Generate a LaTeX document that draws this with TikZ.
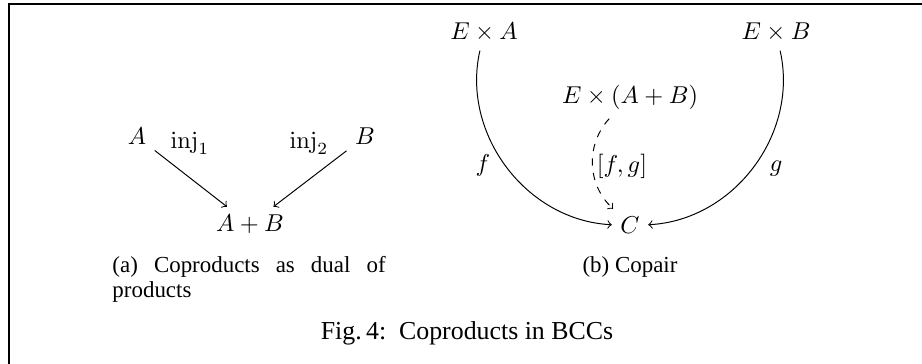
\documentclass[tikz,border=0pt]{standalone}
\usepackage[no-math]{fontspec}
\setmainfont{Liberation Serif}
\begin{document}
\begin{tikzpicture}[x=0.41pt,y=-0.41pt,
  obj/.style={anchor=base,inner sep=3.33pt},
  lbl/.style={anchor=base,inner sep=0pt},
  arr/.style={->,line width=0.4pt},
  subcap/.style={inner sep=0pt,font=\fontsize{9.4}{10.5}\selectfont},
  maincap/.style={anchor=base,inner sep=0pt,font=\fontsize{10.6}{12}\selectfont}]
\useasboundingbox (0,0) rectangle (922,364);
\draw[line width=0.82pt] (8.5,364) -- (8.5,4.5) -- (922,4.5);
% (a)
\node[obj] (A) at (137,145) {$A$};
\node[obj] (B) at (365,145) {$B$};
\node[obj] (AB) at (250,232) {$A+B$};
\node[lbl] (i1) at (190,149) {$\mathrm{inj}_1$};
\node[lbl] (i2) at (309,149) {$\mathrm{inj}_2$};
\draw[arr] (A) -- (AB);
\draw[arr] (B) -- (AB);
% (b)
\node[obj] (EA) at (484,40) {$E\times A$};
\node[obj] (EB) at (776,40) {$E\times B$};
\node[obj] (EAB) at (630,104) {$E\times(A+B)$};
\node[obj] (C) at (630,234) {$C$};
\draw[arr] (EA) to[bend right=50] (C);
\draw[arr] (EB) to[bend left=50] (C);
\draw[arr,dashed] (EAB) to[bend right=45] (C);
\node[lbl] (f) at (483,172) {$f$};
\node[lbl] (fg) at (622,173) {$[f,g]$};
\node[lbl] (g) at (776,172) {$g$};
% captions
\node[subcap,anchor=base west] (capa1) at (112,273) {\makebox[112pt][s]{(a) Coproducts as dual of}};
\node[subcap,anchor=base west] (capa2) at (112,298) {products};
\node[subcap,anchor=base] (capb) at (630,273) {(b) Copair};
\node[maincap] (cap) at (467,340) {Fig.\,4:\enspace Coproducts in BCCs};
\end{tikzpicture}
\end{document}
